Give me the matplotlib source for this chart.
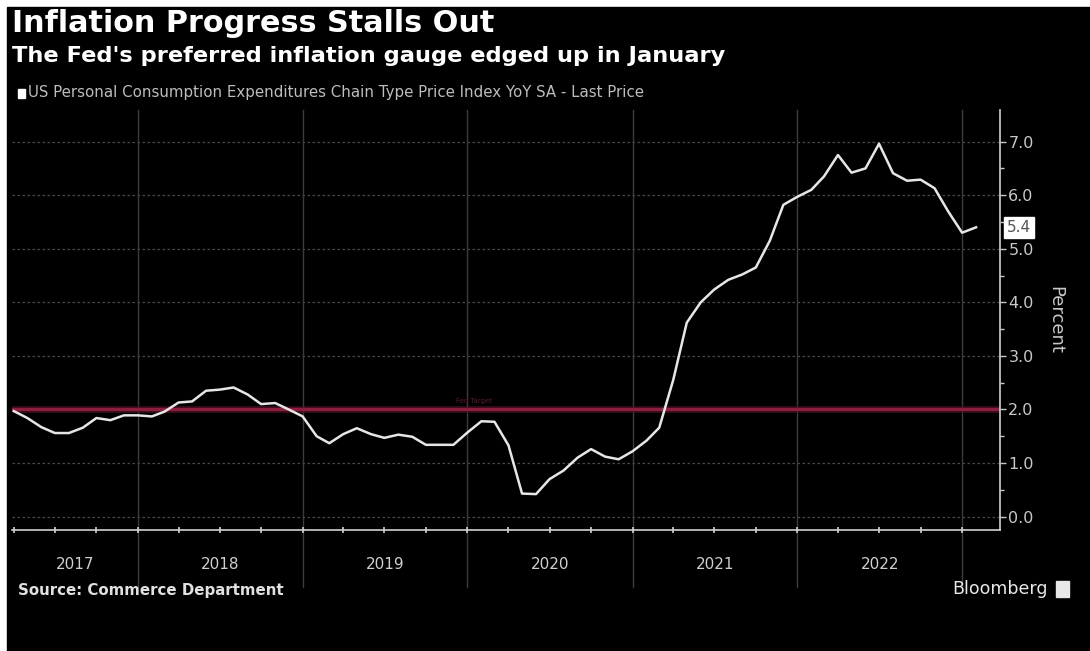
import numpy as np
import pandas as pd
import matplotlib
matplotlib.use('Agg')
import matplotlib.pyplot as plt
import matplotlib.dates as mdates
from matplotlib.patches import Rectangle
from matplotlib.transforms import blended_transform_factory
from datetime import datetime

# monthly PCE price index, YoY %, Mar 2017 .. Jan 2023
months = pd.period_range('2017-03', '2023-01', freq='M')
pce_2017 = [1.97, 1.84, 1.67, 1.56, 1.56, 1.66, 1.84, 1.80, 1.89, 1.89]
pce_2018 = [1.87, 1.96, 2.13, 2.15, 2.35, 2.37, 2.41, 2.28, 2.10, 2.12, 2.00, 1.87]
pce_2019 = [1.50, 1.37, 1.54, 1.65, 1.54, 1.47, 1.53, 1.49, 1.34, 1.34, 1.34, 1.57]
pce_2020 = [1.78, 1.77, 1.33, 0.43, 0.42, 0.70, 0.86, 1.10, 1.26, 1.12, 1.07, 1.22]
pce_2021 = [1.42, 1.66, 2.55, 3.62, 4.00, 4.24, 4.42, 4.52, 4.65, 5.15, 5.82, 5.97]
pce_2022 = [6.10, 6.35, 6.75, 6.42, 6.50, 6.96, 6.41, 6.27, 6.29, 6.13, 5.70, 5.30]
pce_2023 = [5.40]
pce = np.array(pce_2017 + pce_2018 + pce_2019 + pce_2020 + pce_2021 + pce_2022 + pce_2023)
fed_target = 2.0
years = [2017, 2018, 2019, 2020, 2021, 2022]
yticks = [0, 1, 2, 3, 4, 5, 6, 7]

dates = [d.to_pydatetime() for d in months.to_timestamp(how='end')]

W, H = 1090, 651
fig = plt.figure(figsize=(W / 100, H / 100), dpi=100, facecolor='white')
# black panel (thin white margin on top and left)
fig.patches.append(Rectangle((7 / W, -0.01), 1.02 - 7 / W, 1.01 - 7 / H,
                             transform=fig.transFigure, color='black', zorder=-10))

ax = fig.add_axes([12 / W, 1 - 530 / H, (1000 - 12) / W, (530 - 110) / H])
ax.set_facecolor('black')

xmin = datetime(2017, 3, 28)
xmax = datetime(2023, 3, 26)
ax.set_xlim(xmin, xmax)
ax.set_ylim(-0.25, 7.59)

# horizontal grid
for v in yticks:
    ax.axhline(v, color='#4a4a4a', lw=0.9, ls=(0, (2, 2)), zorder=1)

# year separators, running down through the label strip
for y in years[1:] + [2023]:
    ax.axvline(datetime(y, 1, 1), ymin=-0.135, ymax=1, color='#3c3c3c', lw=1.0,
               clip_on=False, zorder=1)

# fed target line
ax.axhline(fed_target, color='#4a1020', lw=5, alpha=0.7, zorder=2)
ax.axhline(fed_target, color='#8c1f40', lw=2.4, zorder=2)
ax.text(datetime(2020, 1, 15), fed_target + 0.1, 'Fed Target', color='#5e1a2b',
        fontsize=5, ha='center', va='bottom')

ax.plot(dates, pce, color='#e6e6e6', lw=1.8, zorder=3)

# spines
for s in ['left', 'top']:
    ax.spines[s].set_visible(False)
for s in ['right', 'bottom']:
    ax.spines[s].set_color('#d0d0d0')
    ax.spines[s].set_linewidth(1.2)

# right-hand percent axis
ax.yaxis.tick_right()
ax.set_yticks(yticks)
ax.set_yticklabels(['%.1f' % v for v in yticks])
ax.set_yticks(np.arange(0.5, 7.5, 1.0), minor=True)
ax.tick_params(axis='y', which='major', colors='#c8c8c8', labelsize=11.5,
               length=4, width=1, pad=2)
ax.tick_params(axis='y', which='minor', colors='#c8c8c8', length=3, width=1)
ax.yaxis.set_label_position('right')
ax.set_ylabel('Percent', rotation=270, color='#c8c8c8', fontsize=13, labelpad=22)

# quarterly ticks on the time axis, years written between separators
ax.xaxis.set_major_locator(mdates.MonthLocator(bymonth=[1, 4, 7, 10]))
ax.xaxis.set_major_formatter(plt.NullFormatter())
ax.tick_params(axis='x', colors='#d0d0d0', length=4, width=1.2, direction='inout')
trans = blended_transform_factory(ax.transData, ax.transAxes)
for y in years:
    left = max(datetime(y, 1, 1), xmin)
    right = min(datetime(y + 1, 1, 1), xmax)
    mid = left + (right - left) / 2
    ax.text(mid, -0.083, str(y), transform=trans, ha='center', va='center',
            color='#cfcfcf', fontsize=11)

# last value tag
ax.annotate('%.1f' % pce[-1], xy=(1.0, pce[-1]), xycoords=('axes fraction', 'data'),
            xytext=(5, 0), textcoords='offset points', ha='left', va='center',
            fontsize=11, color='#555555',
            bbox=dict(boxstyle='square,pad=0.2', fc='white', ec='white'))

# headings
fig.text(12 / W, 1 - 9 / H, 'Inflation Progress Stalls Out', color='white',
         fontsize=21.8, fontweight='bold', ha='left', va='top')
fig.text(12 / W, 1 - 46 / H, "The Fed's preferred inflation gauge edged up in January",
         color='white', fontsize=16.2, fontweight='bold', ha='left', va='top')
fig.patches.append(Rectangle((18 / W, 1 - 98 / H), 7 / W, 9 / H,
                             transform=fig.transFigure, color='white'))
fig.text(28 / W, 1 - 93 / H,
         'US Personal Consumption Expenditures Chain Type Price Index YoY SA - Last Price',
         color='#bdbdbd', fontsize=10.8, ha='left', va='center')

fig.text(18 / W, 1 - 590 / H, 'Source: Commerce Department', color='#e0e0e0',
         fontsize=10.8, fontweight='bold', ha='left', va='center')
fig.text(1048 / W, 1 - 589 / H, 'Bloomberg', color='#e8e8e8', fontsize=12.5,
         ha='right', va='center')
fig.patches.append(Rectangle((1056 / W, 1 - 597 / H), 13 / W, 16 / H,
                             transform=fig.transFigure, color='#e8e8e8'))

fig.savefig('out.png', dpi=100, facecolor=fig.get_facecolor())
